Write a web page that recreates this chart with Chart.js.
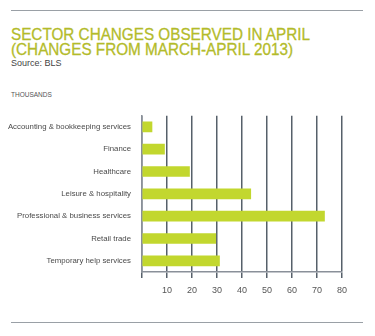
<!DOCTYPE html>
<html>
<head>
<meta charset="utf-8">
<script src="https://cdn.jsdelivr.net/npm/chart.js@4"></script>
<style>
  body { margin: 0; width: 375px; height: 336px; background: #fff; position: relative; overflow: hidden; font-family: "Liberation Sans", Arial, sans-serif; }
  .rule { position: absolute; left: 11px; width: 352px; height: 1px; background: #9aa0a6; }
  #title { position: absolute; left: 11px; top: 27px; color: #b3bb2a; font-size: 16.5px; line-height: 14.5px; white-space: nowrap; transform-origin: 0 0; -webkit-text-stroke: 0.3px #b3bb2a; }
  #source { position: absolute; left: 11px; top: 58px; color: #444; font-size: 9px; }
  #units { position: absolute; left: 11px; top: 91px; color: #555; font-size: 6.5px; }
  #wrap { position: absolute; left: 0; top: 100px; width: 375px; height: 210px; }
</style>
</head>
<body>
<div class="rule" style="top:10px"></div>
<div id="title">SECTOR CHANGES OBSERVED IN APRIL<br>(CHANGES FROM MARCH-APRIL 2013)</div>
<div id="source">Source: BLS</div>
<div id="units">THOUSANDS</div>
<div id="wrap"><canvas id="chart"></canvas></div>
<div class="rule" style="top:322px"></div>
<script>
const categories = [
    'Accounting & bookkeeping services',
    'Finance',
    'Healthcare',
    'Leisure & hospitality',
    'Professional & business services',
    'Retail trade',
    'Temporary help services'
];
const changes = [4, 9, 19, 43.5, 73, 29.5, 31];

// squeeze title to the narrow width of the original
const title = document.getElementById('title');
const w = title.getBoundingClientRect().width;
title.style.transform = 'scaleX(' + (299 / w) + ')';

const ctx = document.getElementById('chart').getContext('2d');
new Chart(ctx, {
    type: 'bar',
    data: {
        labels: categories,
        datasets: [{
            label: 'Thousands',
            data: changes,
            backgroundColor: '#c2d72e',
            barThickness: 10
        }]
    },
    options: {
        indexAxis: 'y',
        responsive: true,
        maintainAspectRatio: false,
        animation: false,
        layout: { padding: { top: 10, right: 33, left: 0, bottom: 0 } },
        plugins: { legend: { display: false }, tooltip: { enabled: false } },
        scales: {
            x: {
                min: 0,
                max: 80,
                ticks: {
                    stepSize: 10,
                    padding: 7,
                    color: '#555',
                    font: { family: 'Liberation Sans', size: 9 },
                    callback: (v) => v === 0 ? '' : v
                },
                grid: { color: '#56606a', lineWidth: 1.5, tickLength: 6 },
                border: { color: '#8a9099', width: 1.5 },
                afterFit: (scale) => { scale.height = 38; }
            },
            y: {
                ticks: {
                    padding: 11,
                    color: '#4a4a4a',
                    font: { family: 'Liberation Sans', size: 7.8 }
                },
                grid: { display: false, drawTicks: false },
                border: { color: '#8a9099', width: 1.5 },
                afterFit: (scale) => { scale.width = 142; }
            }
        }
    }
});
</script>
</body>
</html>
